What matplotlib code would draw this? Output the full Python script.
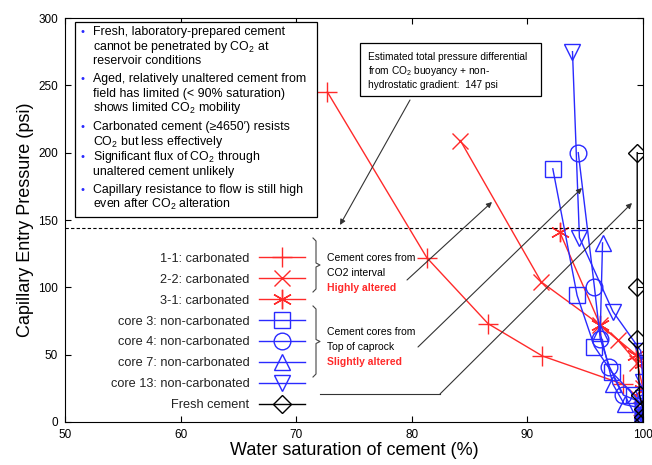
import numpy as np
import matplotlib
matplotlib.use("Agg")
import matplotlib.pyplot as plt
from matplotlib.lines import Line2D
from matplotlib.patches import Rectangle

plt.rcParams['font.family'] = ['Liberation Sans', 'DejaVu Sans']

# data
x11 = [72.7, 81.3, 86.6, 91.3, 98.3, 100, 100]
y11 = [245, 122, 73, 49, 28, 15, 5]
x22 = [84.2, 91.2, 96.3, 97.8, 99.5, 100, 100]
y22 = [209, 104, 72, 61, 44, 25, 8]
x31 = [92.8, 96.3, 99.4, 100, 100, 100]
y31 = [141, 72, 50, 44, 24, 6]
xc3 = [92.2, 94.3, 95.8, 97.3, 99.2, 100, 100, 100, 100, 100]
yc3 = [188, 94, 56, 37, 20, 12, 8, 5, 2, 0]
xc4 = [94.4, 95.8, 96.3, 97.1, 98.3, 100, 100, 100, 100]
yc4 = [200, 100, 62, 41, 20, 14, 8, 4, 1]
xc7 = [96.5, 96.3, 97.4, 98.4, 100, 100, 100, 100]
yc7 = [133, 66, 28, 13, 10, 6, 3, 0]
xc13 = [93.9, 94.5, 97.4, 99.8, 100, 100, 100, 100]
yc13 = [275, 137, 82, 53, 30, 18, 10, 4]
xfr = [99.5, 99.5, 99.5, 99.7, 100, 100, 100]
yfr = [200, 100, 62, 20, 10, 4, 0]

labels = ['1-1: carbonated', '2-2: carbonated', '3-1: carbonated',
          'core 3: non-carbonated', 'core 4: non-carbonated',
          'core 7: non-carbonated', 'core 13: non-carbonated', 'Fresh cement']

W, H = 652, 465
fig = plt.figure(figsize=(W / 100, H / 100), dpi=100)
ax = fig.add_axes([65 / W, 1 - 422 / H, (643 - 65) / W, (422 - 18) / H])

def f(x, y):
    return (x / W, 1 - y / H)

red = '#ff2a2a'
blue = '#2a2aff'
series = [
    (x11, y11, red, '+', 15),
    (x22, y22, red, 'x', 12),
    (x31, y31, red, (6, 2, 0), 14),
    (xc3, yc3, blue, 's', 12),
    (xc4, yc4, blue, 'o', 12),
    (xc7, yc7, blue, '^', 12),
    (xc13, yc13, blue, 'v', 12),
    (xfr, yfr, 'black', 'D', 9),
]
for (xs, ys, c, m, ms), lab in zip(series, labels):
    ax.plot(xs, ys, color=c, lw=1, marker=m, ms=ms, mfc='none', mec=c,
            mew=1, label=lab)

ax.axhline(144, ls=(0, (3, 2)), color='black', lw=0.8)

ax.set_xlim(50, 100)
ax.set_ylim(0, 300)
ax.set_xticks([50, 60, 70, 80, 90, 100])
ax.set_yticks([0, 50, 100, 150, 200, 250, 300])
ax.tick_params(direction='in', top=True, right=True, labelsize=8.5, length=4,
               pad=5)
ax.set_xlabel('Water saturation of cement (%)', fontsize=13, labelpad=1)
ax.set_ylabel('Capillary Entry Pressure (psi)', fontsize=13, labelpad=3)

leg = ax.legend(loc='center right', bbox_to_anchor=f(305, 332),
                bbox_transform=fig.transFigure, frameon=False,
                markerfirst=False, fontsize=9.2, handlelength=3.6,
                handletextpad=0.75, labelspacing=0.7, borderpad=0,
                borderaxespad=0)
for t in leg.get_texts():
    t.set_color('#222222')

# bullet box
fig.patches.append(Rectangle(f(75, 217), (317 - 75) / W, (217 - 22) / H,
                             transform=fig.transFigure, fill=True,
                             fc='white', ec='black', lw=0.9, zorder=5))
bullets = [
    (['Fresh, laboratory-prepared cement',
      r'cannot be penetrated by $\mathregular{CO_2}$ at',
      'reservoir conditions'], 32),
    (['Aged, relatively unaltered cement from',
      'field has limited (< 90% saturation)',
      r'shows limited $\mathregular{CO_2}$ mobility'], 79),
    (['Carbonated cement (\u22654650\u2032) resists',
      r'$\mathregular{CO_2}$ but less effectively'], 127),
    ([r'Significant flux of $\mathregular{CO_2}$ through',
      'unaltered cement unlikely'], 157),
    (['Capillary resistance to flow is still high',
      r'even after $\mathregular{CO_2}$ alteration'], 190),
]
for lines, y0 in bullets:
    fig.text(*f(83, y0), '\u2022', color=blue, fontsize=8, va='center',
             ha='center', zorder=6)
    for i, ln in enumerate(lines):
        fig.text(*f(93, y0 + i * 14.7), ln, fontsize=8.9, va='center',
                 zorder=6)

# pressure box
fig.patches.append(Rectangle(f(360, 96), (541 - 360) / W, (96 - 43) / H,
                             transform=fig.transFigure, fill=True,
                             fc='white', ec='black', lw=0.9, zorder=5))
for i, ln in enumerate(['Estimated total pressure differential',
                        r'from $\mathregular{CO_2}$ buoyancy + non-',
                        'hydrostatic gradient:  147 psi']):
    fig.text(*f(368, 57 + i * 14.2), ln, fontsize=7.3, va='center',
             zorder=6, family=['Liberation Sans Narrow', 'Liberation Sans'])

ap = dict(arrowstyle='-|>', color='#333333', lw=0.8, mutation_scale=8,
          shrinkA=0, shrinkB=0)
ax.annotate('', xy=f(340, 225), xycoords='figure fraction',
            xytext=f(410, 100), textcoords='figure fraction', arrowprops=ap)
ax.annotate('', xy=f(492, 202), xycoords='figure fraction',
            xytext=f(407, 280), textcoords='figure fraction', arrowprops=ap)
ax.annotate('', xy=f(582, 188), xycoords='figure fraction',
            xytext=f(418, 347), textcoords='figure fraction', arrowprops=ap)
ax.annotate('', xy=f(632, 203), xycoords='figure fraction',
            xytext=f(440, 394), textcoords='figure fraction', arrowprops=ap)
p0, p1 = f(320, 394), f(440, 394)
fig.lines.append(Line2D([p0[0], p1[0]], [p0[1], p1[1]], color='#333333',
                        lw=0.8, transform=fig.transFigure))

# braces
def brace(xp, ytop, ybot):
    ym = (ytop + ybot) / 2
    xs = [xp - 3, xp, xp, xp + 4, xp, xp, xp - 3]
    ys = [ytop, ytop + 3, ym - 2, ym, ym + 2, ybot - 3, ybot]
    pts = [f(a, b) for a, b in zip(xs, ys)]
    fig.lines.append(Line2D([p[0] for p in pts], [p[1] for p in pts],
                            color='#444444', lw=0.8,
                            transform=fig.transFigure))

brace(316, 238, 292)
brace(316, 306, 377)
for y0, head, tail in [(258, 'Cement cores from', 'CO2 interval'),
                       (332, 'Cement cores from', 'Top of caprock')]:
    fig.text(*f(327, y0), head, fontsize=7.5, va='center')
    fig.text(*f(327, y0 + 15), tail, fontsize=7.5, va='center')
fig.text(*f(327, 288), 'Highly altered', fontsize=7.5, va='center',
         color=red, weight='bold')
fig.text(*f(327, 362), 'Slightly altered', fontsize=7.5, va='center',
         color=red, weight='bold')

fig.savefig('out.png', dpi=100)
